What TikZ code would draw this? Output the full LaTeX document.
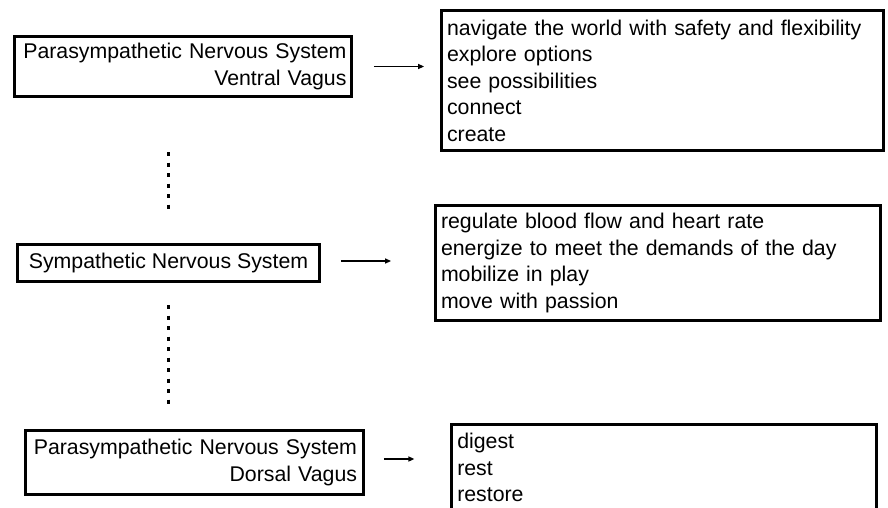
\documentclass[tikz,border=0pt]{standalone}
\usepackage{fontspec}
\setmainfont{Liberation Sans}
\usetikzlibrary{arrows.meta}

\begin{document}
\begin{tikzpicture}[x=1pt,y=-1pt,
	font=\fontsize{21.3}{26.5}\selectfont,
	sysbox/.style={draw,line width=2.8pt,inner ysep=0pt},
	listbox/.style={draw,line width=2.8pt,align=left,inner xsep=5.5pt,inner ysep=0pt},
	link/.style={line width=1.4pt,-{Triangle[length=6pt,width=5pt]}},
	dots/.style={line width=3pt,dash pattern=on 4pt off 6.5pt}]

	\useasboundingbox (0,0) rectangle (888,507);

	\node[sysbox,minimum width=337pt,minimum height=60pt,text width=327pt,align=right,inner xsep=5pt] (ventral) at (183,66.5) {Parasympathetic Nervous System\\Ventral Vagus};
	\node[sysbox,minimum width=302pt,minimum height=37pt] (sympa) at (168.5,263) {Sympathetic Nervous System};
	\node[sysbox,minimum width=338pt,minimum height=64pt,text width=325pt,align=right,inner xsep=6.5pt] (dorsal) at (194.5,462.5) {Parasympathetic Nervous System\\Dorsal Vagus};

	\node[listbox,minimum width=442pt,minimum height=140pt,text width=431pt] (ventralList) at (662.5,80.5) {navigate the world with safety and flexibility\\explore options\\see possibilities\\connect\\create};
	\node[listbox,minimum width=445pt,minimum height=115pt,text width=434pt] (sympaList) at (658,263) {regulate blood flow and heart rate\\energize to meet the demands of the day\\mobilize in play\\move with passion};
	\node[listbox,anchor=north west,inner ysep=8.5pt,minimum width=425pt,text width=414pt] (dorsalList) at (450.4,423.4) {digest\\rest\\restore};

	\draw[link,shorten <=21pt,shorten >=16pt] (ventral.east) -- (ventral.east -| ventralList.west);
	\draw[link,shorten <=20pt,shorten >=43pt] ([yshift=2pt]sympa.east) -- ([yshift=2pt]sympa.east -| sympaList.west);
	\draw[link,shorten <=19pt,shorten >=36pt] ([yshift=3.5pt]dorsal.east) -- ([yshift=3.5pt]dorsal.east -| dorsalList.west);

	\coordinate (upTop) at (168,152);
	\coordinate (upBottom) at (168,210);
	\coordinate (lowTop) at (168,305);
	\coordinate (lowBottom) at (168,408);
	\draw[dots] (upTop) -- (upBottom);
	\draw[dots] (lowTop) -- (lowBottom);

\end{tikzpicture}
\end{document}
